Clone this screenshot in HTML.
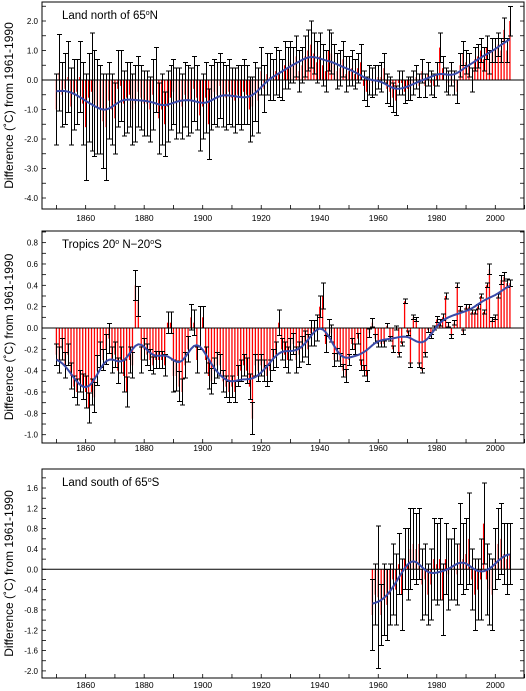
<!DOCTYPE html>
<html><head><meta charset="utf-8"><style>
body{margin:0;background:#fff;width:526px;height:691px;overflow:hidden}
svg{display:block;font-family:"Liberation Sans",sans-serif}
</style></head><body>
<svg id="chart" width="526" height="691"></svg>
<script>
// ---- data ----
const yearsStart = 1850;
const northValues = [-1.0,0.25,-0.5,-0.3,0.1,-0.9,-0.5,-0.4,0.1,-0.8,
-1.6,-0.6,-0.4,-0.8,-0.9,-1.0,-1.4,-1.6,-0.7,-1.0,
-1.3,-0.3,-0.2,-0.8,-0.6,-0.5,-1.0,-0.8,-0.4,-0.6,
-0.8,-0.8,-1.0,-0.5,0.0,-1.3,-1.0,-1.5,-0.9,-0.6,
-0.4,-0.8,-0.7,-0.9,-0.5,-0.7,-0.7,-0.3,-0.6,-1.2,
-0.9,-0.6,-1.5,-0.6,-0.4,-0.5,-0.2,-0.5,-0.6,-0.4,
-0.6,-0.7,-0.5,-0.6,-0.4,-0.5,-1.0,-0.9,-0.4,-0.7,
0.3,-0.3,0.2,0.1,0.0,0.3,0.2,0.0,0.5,0.4,
0.6,0.5,0.8,0.3,0.5,0.8,1.0,1.2,0.9,0.6,
0.8,0.5,0.3,1.0,0.9,0.6,0.3,0.4,0.7,0.2,
0.3,0.4,0.2,0.4,0.6,-0.2,-0.4,0.0,-0.1,0.0,
0.1,0.1,0.4,-0.3,-0.4,-0.6,-0.7,-0.1,-0.1,-0.4,
-0.3,-0.3,-0.1,0.1,-0.2,0.3,-0.2,0.2,-0.1,-0.2,
0.2,1.1,0.4,0.0,-0.1,0.2,-0.1,-0.4,0.5,0.9,
0.6,0.5,0.0,0.7,0.8,1.0,0.7,1.1,0.6,1.0,
1.0,1.2,1.0,1.7,1.0,2.0];
const northErrors = [1.2,1.3,1.1,1.2,1.2,1.3,1.2,1.1,1.2,1.4,
1.8,1.5,2.0,1.8,1.6,1.5,1.6,1.8,1.3,1.2,
1.2,1.3,1.2,1.1,1.2,1.1,1.2,1.3,1.2,1.1,
1.1,1.1,1.1,1.2,1.1,1.2,1.2,1.1,1.2,1.1,
1.1,1.2,1.1,1.1,1.1,1.2,1.1,1.1,1.1,1.2,
1.1,1.2,1.2,1.1,1.1,1.1,1.1,1.1,1.1,1.1,
1.0,1.1,1.0,1.1,1.1,1.0,1.1,1.0,1.0,1.1,
0.8,0.8,0.7,0.8,0.7,0.8,0.8,0.7,0.8,0.7,
0.7,0.6,0.7,0.7,0.6,0.7,0.7,0.8,0.7,0.7,
0.8,0.7,0.7,0.7,0.7,0.6,0.6,0.6,0.6,0.6,
0.5,0.6,0.5,0.5,0.6,0.5,0.5,0.5,0.5,0.5,
0.4,0.5,0.5,0.5,0.5,0.5,0.5,0.4,0.4,0.4,
0.4,0.4,0.4,0.4,0.4,0.4,0.4,0.4,0.4,0.4,
0.4,0.5,0.4,0.4,0.4,0.4,0.4,0.4,0.4,0.4,
0.4,0.4,0.4,0.4,0.4,0.4,0.4,0.4,0.4,0.4,
0.4,0.4,0.4,0.4,0.4,0.5];
const tropicsValues = [-0.25,-0.3,-0.2,-0.35,-0.25,-0.45,-0.55,-0.6,-0.5,-0.55,
-0.6,-0.75,-0.6,-0.65,-0.4,-0.25,-0.3,-0.2,-0.1,-0.3,
-0.25,-0.4,-0.3,-0.45,-0.6,-0.3,-0.35,0.4,0.25,-0.3,
-0.2,-0.25,-0.3,-0.35,-0.3,-0.3,-0.3,-0.35,0.05,0.05,
-0.45,-0.45,-0.55,-0.6,-0.35,-0.2,0.1,0.05,-0.3,0.0,
0.1,-0.3,-0.45,-0.5,-0.4,-0.35,-0.35,-0.5,-0.55,-0.6,
-0.55,-0.6,-0.45,-0.4,-0.35,-0.4,-0.55,-0.85,-0.35,-0.4,
-0.35,-0.4,-0.45,-0.4,-0.3,-0.25,0.05,-0.2,-0.25,-0.3,
-0.2,-0.15,-0.3,-0.25,-0.2,-0.15,-0.2,-0.05,-0.05,0.0,
0.2,0.3,-0.15,0.0,-0.05,-0.3,-0.25,-0.3,-0.4,-0.45,
-0.3,-0.15,-0.2,-0.1,-0.35,-0.4,-0.45,-0.05,0.05,-0.1,
-0.15,-0.15,-0.15,0.02,-0.1,-0.2,0.0,-0.25,-0.15,0.25,
-0.05,-0.35,0.1,0.08,-0.35,-0.4,-0.25,-0.02,-0.08,0.0,
0.08,0.05,0.1,0.3,0.03,-0.08,0.05,0.4,0.18,-0.04,
0.2,0.2,0.15,0.15,0.2,0.3,0.15,0.4,0.55,0.08,
0.1,0.3,0.45,0.48,0.42,0.42];
const tropicsErrors = [0.1,0.12,0.1,0.12,0.1,0.12,0.1,0.12,0.1,0.12,
0.15,0.14,0.12,0.14,0.14,0.12,0.1,0.14,0.14,0.12,
0.12,0.12,0.12,0.15,0.14,0.12,0.12,0.14,0.14,0.12,
0.1,0.1,0.1,0.08,0.08,0.08,0.08,0.1,0.1,0.1,
0.15,0.14,0.14,0.12,0.12,0.12,0.12,0.12,0.12,0.2,
0.1,0.12,0.12,0.12,0.12,0.12,0.1,0.1,0.1,0.1,
0.1,0.1,0.1,0.1,0.1,0.12,0.12,0.15,0.1,0.1,
0.1,0.1,0.1,0.1,0.1,0.12,0.12,0.1,0.12,0.12,
0.1,0.1,0.12,0.12,0.12,0.12,0.14,0.12,0.12,0.12,
0.1,0.12,0.08,0.08,0.08,0.06,0.06,0.06,0.06,0.06,
0.05,0.05,0.05,0.05,0.05,0.05,0.05,0.04,0.04,0.04,
0.03,0.03,0.03,0.02,0.02,0.03,0.02,0.02,0.02,0.02,
0.02,0.02,0.02,0.02,0.02,0.02,0.02,0.02,0.02,0.02,
0.03,0.03,0.03,0.03,0.02,0.02,0.02,0.02,0.02,0.02,
0.02,0.02,0.02,0.02,0.02,0.02,0.02,0.02,0.05,0.02,
0.02,0.02,0.04,0.04,0.04,0.03];
const southStart = 1958;
const southValues = [-0.9,-0.5,-0.55,-0.9,-0.6,-0.7,-0.5,-0.2,-0.4,
0.1,-0.5,0.2,0.1,0.4,0.5,0.4,0.5,-0.3,-0.2,
-0.5,-0.3,0.2,0.1,0.2,-0.6,0.2,-0.1,0.0,0.1,
-0.1,0.5,0.2,0.3,0.6,-0.2,-0.5,-0.4,-0.2,0.9,
-0.2,-0.4,-0.5,0.2,0.5,0.6,0.3,0.2,0.3];
const southErrors = [0.7,0.6,1.4,0.6,0.7,0.7,0.6,0.7,0.7,
0.6,0.7,0.6,0.7,0.8,0.7,0.7,0.7,0.7,0.7,
0.6,0.7,0.8,0.8,0.8,0.7,0.7,0.7,0.6,0.7,
0.6,0.8,0.7,0.7,0.9,0.6,0.7,0.6,0.8,0.8,
0.7,0.7,0.7,0.6,0.7,0.7,0.6,0.7,0.6];
const xTickYears = [1860,1880,1900,1920,1940,1960,1980,2000];
const northTicks = ["2.0","1.0","0.0","-1.0","-2.0","-3.0","-4.0"];
const tropicsTicks = ["0.8","0.6","0.4","0.2","0.0","-0.2","-0.4","-0.6","-0.8","-1.0"];
const southTicks = ["1.6","1.2","0.8","0.4","0.0","-0.4","-0.8","-1.2","-1.6","-2.0"];

// ---- drawing ----
const NS='http://www.w3.org/2000/svg';
const svg=document.getElementById('chart');
function mk(tag,attrs,parent){const e=document.createElementNS(NS,tag);for(const k in attrs)e.setAttribute(k,attrs[k]);(parent||svg).appendChild(e);return e;}
const X0=56.4, XS=2.926, L=42, R=524;
function xScale(yr){return X0+(yr-1850)*XS;}
function smooth(vals){const out=[];const s=3;for(let i=0;i<vals.length;i++){let a=0,w=0;for(let j=-9;j<=9;j++){const k=i+j;if(k<0||k>=vals.length)continue;const g=Math.exp(-j*j/(2*s*s));a+=g*vals[k];w+=g;}out.push(a/w);}return out;}

const panels=[
 {name:'land-north',title:'Land north of 65',suffix:'N',top:2,bottom:209,zero:80,unit:29.5,minor:0.5,ticks:northTicks,vals:northValues,errs:northErrors,start:yearsStart,lab:221},
 {name:'tropics',title:'Tropics 20',suffix:'',top:231,bottom:443,zero:328,unit:106.7,minor:0.1,ticks:tropicsTicks,vals:tropicsValues,errs:tropicsErrors,start:yearsStart,lab:451},
 {name:'land-south',title:'Land south of 65',suffix:'S',top:469,bottom:678,zero:569.3,unit:50.8,minor:0.2,ticks:southTicks,vals:southValues,errs:southErrors,start:southStart,lab:688}
];
panels.forEach(p=>{
 const g=mk('g',{});
 
 
 const y=v=>p.zero-v*p.unit;
 const fr=mk('rect',{x:L,y:p.top,width:R-L,height:p.bottom-p.top,fill:'none',stroke:'#000','stroke-width':1},g);
 
 const vmax=(p.zero-p.top)/p.unit, vmin=(p.zero-p.bottom)/p.unit;
 for(let v=Math.ceil(vmin/p.minor)*p.minor; v<=vmax+1e-6; v+=p.minor){
  const yy=y(v);
  mk('line',{x1:L,x2:L+4,y1:yy,y2:yy,stroke:'#000','stroke-width':0.8},g);
  mk('line',{x1:R-4,x2:R,y1:yy,y2:yy,stroke:'#000','stroke-width':0.8},g);
 }
 p.ticks.forEach(t=>{
  const tx=mk('text',{x:L-4,y:y(parseFloat(t))+3,'font-size':8,'text-anchor':'end',fill:'#000'},g);
  tx.textContent=t;
  
 });
 for(let yr=1850;yr<=2010;yr+=10){const xx=xScale(yr);mk('line',{x1:xx,x2:xx,y1:p.bottom,y2:p.bottom-4,stroke:'#000','stroke-width':0.8},g);}
 xTickYears.forEach(yr=>{
  const tx=mk('text',{x:xScale(yr),y:p.lab,'font-size':8.5,'text-anchor':'middle',fill:'#000'},g);
  tx.textContent=yr;
  
 });
 p.vals.forEach((v,i)=>{
  const xx=xScale(p.start+i);
  const b=mk('line',{x1:xx,x2:xx,y1:y(0),y2:y(v),stroke:'#f00','stroke-width':1.3},g);
  
 });
 mk('line',{x1:L,x2:R,y1:y(0),y2:y(0),stroke:'#000','stroke-width':1},g);
 p.vals.forEach((v,i)=>{
  const xx=Math.round(xScale(p.start+i))+0.5,e=p.errs[i];
  const eg=mk('path',{d:`M${xx},${y(v+e)}V${y(v-e)}M${xx-2.5},${y(v+e)}H${xx+2.5}M${xx-2.5},${y(v-e)}H${xx+2.5}`,stroke:'#000','stroke-width':1,fill:'none','shape-rendering':'crispEdges'},g);
  
 });
 const sm=smooth(p.vals);
 const ln=mk('path',{d:sm.map((v,i)=>(i?'L':'M')+xScale(p.start+i).toFixed(1)+','+y(v).toFixed(1)).join(''),stroke:'#3a4aa8','stroke-width':2,fill:'none'},g);
 
 const t=mk('text',{x:62,y:p.top+17,'font-size':11.5,fill:'#000'},g);
 
 if(p.name==='tropics'){t.innerHTML='Tropics 20<tspan dy="-4" font-size="7">o</tspan><tspan dy="4"> N\u221220</tspan><tspan dy="-4" font-size="7">o</tspan><tspan dy="4">S</tspan>';}
 else{t.innerHTML=p.title+'<tspan dy="-4" font-size="7">o</tspan><tspan dy="4">'+p.suffix+'</tspan>';}
 const cy=(p.top+p.bottom)/2;
 const yt=mk('text',{x:0,y:0,'font-size':12,'text-anchor':'middle',transform:`translate(13,${cy}) rotate(-90)`,fill:'#000'},g);
 yt.textContent='Difference  (\u02daC) from 1961-1990';
 
});
</script>
</body></html>
